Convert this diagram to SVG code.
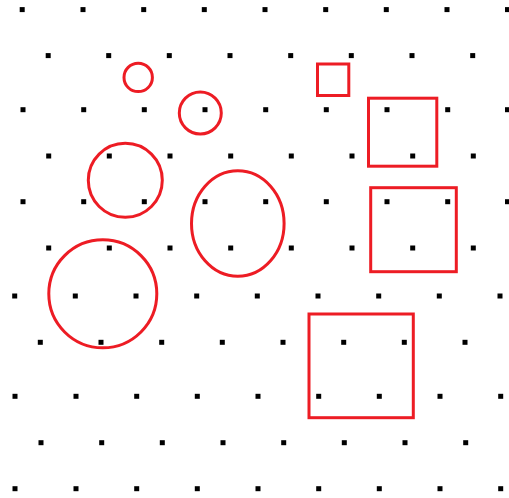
<svg xmlns="http://www.w3.org/2000/svg" width="509" height="498" viewBox="0 0 509 498">
<style>
.d{fill:#000}
.s{fill:none;stroke:#ed1c24;stroke-width:3}
</style>
<defs>
<rect id="p" x="-2.5" y="-2.5" width="5" height="5"/>
</defs>
<rect width="509" height="498" fill="#fff"/>
<g id="dots" class="d">
<!-- row 1 -->
<g transform="translate(0,9.6)">
<use href="#p" x="22.2"/><use href="#p" x="83"/><use href="#p" x="143.7"/><use href="#p" x="204.3"/><use href="#p" x="265"/><use href="#p" x="325.7"/><use href="#p" x="386.3"/><use href="#p" x="447"/><use href="#p" x="507.5"/>
</g>
<g transform="translate(0,55.6)">
<use href="#p" x="48.2"/><use href="#p" x="108.7"/><use href="#p" x="169.3"/><use href="#p" x="230"/><use href="#p" x="290.7"/><use href="#p" x="351.3"/><use href="#p" x="412"/><use href="#p" x="472.7"/>
</g>
<g transform="translate(0,109.7)">
<use href="#p" x="23"/><use href="#p" x="83.7"/><use href="#p" x="144.3"/><use href="#p" x="205"/><use href="#p" x="265.7"/><use href="#p" x="326.3"/><use href="#p" x="387"/><use href="#p" x="447.7"/><use href="#p" x="507.5"/>
</g>
<g transform="translate(0,156)">
<use href="#p" x="48.7"/><use href="#p" x="109.3"/><use href="#p" x="170"/><use href="#p" x="230.7"/><use href="#p" x="291.3"/><use href="#p" x="352"/><use href="#p" x="412.7"/><use href="#p" x="473.3"/>
</g>
<g transform="translate(0,201.7)">
<use href="#p" x="23"/><use href="#p" x="83.7"/><use href="#p" x="144.3"/><use href="#p" x="205"/><use href="#p" x="265.7"/><use href="#p" x="326.3"/><use href="#p" x="387"/><use href="#p" x="447.7"/><use href="#p" x="507.5"/>
</g>
<g transform="translate(0,248)">
<use href="#p" x="48.7"/><use href="#p" x="109.3"/><use href="#p" x="170"/><use href="#p" x="230.7"/><use href="#p" x="291.3"/><use href="#p" x="352"/><use href="#p" x="412.7"/><use href="#p" x="473.3"/>
</g>
<g transform="translate(0,296)">
<use href="#p" x="14.7"/><use href="#p" x="75.3"/><use href="#p" x="136"/><use href="#p" x="196.7"/><use href="#p" x="257.3"/><use href="#p" x="318"/><use href="#p" x="378.7"/><use href="#p" x="439.3"/><use href="#p" x="500"/>
</g>
<g transform="translate(0,342.3)">
<use href="#p" x="40.3"/><use href="#p" x="101"/><use href="#p" x="161.7"/><use href="#p" x="222.3"/><use href="#p" x="283"/><use href="#p" x="343.7"/><use href="#p" x="404.3"/><use href="#p" x="465"/>
</g>
<g transform="translate(0,396.3)">
<use href="#p" x="15"/><use href="#p" x="76"/><use href="#p" x="136.7"/><use href="#p" x="197.3"/><use href="#p" x="258"/><use href="#p" x="318.7"/><use href="#p" x="379.3"/><use href="#p" x="440"/><use href="#p" x="500.7"/>
</g>
<g transform="translate(0,442.7)">
<use href="#p" x="41"/><use href="#p" x="101.7"/><use href="#p" x="162.3"/><use href="#p" x="223"/><use href="#p" x="283.7"/><use href="#p" x="344.3"/><use href="#p" x="405"/><use href="#p" x="465.7"/>
</g>
<g transform="translate(0,488.7)">
<use href="#p" x="15"/><use href="#p" x="76"/><use href="#p" x="136.7"/><use href="#p" x="197.3"/><use href="#p" x="258"/><use href="#p" x="318.7"/><use href="#p" x="379.3"/><use href="#p" x="440"/><use href="#p" x="500.7"/>
</g>
</g>
<g id="shapes" class="s">
<circle id="circle1" cx="138.2" cy="77.4" r="14.2"/>
<circle id="circle2" cx="200.3" cy="113" r="21"/>
<circle id="circle3" cx="125.3" cy="180.3" r="37"/>
<ellipse id="ellipse1" cx="237.8" cy="223.5" rx="46.3" ry="52.8"/>
<circle id="circle4" cx="102.8" cy="293.8" r="54"/>
<rect id="square1" x="317.5" y="64" width="31.3" height="31.5"/>
<rect id="square2" x="368.5" y="98.2" width="68.3" height="68"/>
<rect id="square3" x="370.7" y="187.7" width="85.6" height="84"/>
<rect id="square4" x="309" y="314" width="104.3" height="103.7"/>
</g>
</svg>
